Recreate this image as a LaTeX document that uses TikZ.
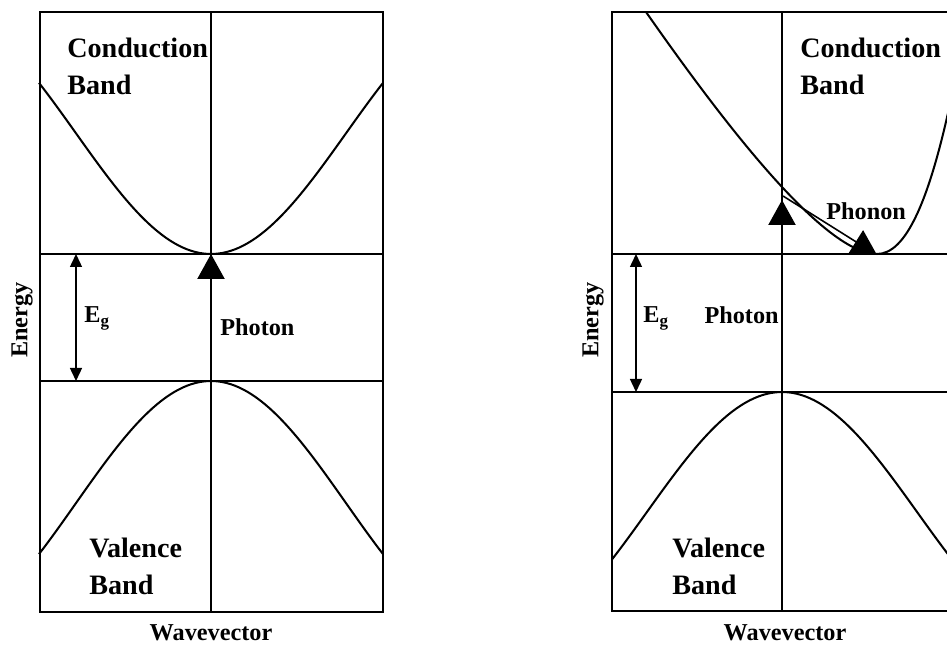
\documentclass[tikz,border=0pt]{standalone}
\usepackage{fontspec}
\setmainfont{Liberation Serif}
\usetikzlibrary{arrows.meta}

\begin{document}
\begin{tikzpicture}[x=0.02cm, y=-0.02cm,
    frame/.style={line width=1.3pt},
    bandedge/.style={line width=1.0pt},
    kaxis/.style={line width=0.8pt},
    bandcurve/.style={line width=1.15pt},
    bandname/.style={font=\fontsize{16}{21.05}\selectfont\bfseries, align=left, inner sep=0pt, anchor=north west},
    lbl/.style={font=\fontsize{13.8}{17}\selectfont\bfseries, inner sep=0pt},
    gaparrow/.style={line width=0.8pt, {Triangle[length=0.26cm, width=0.24cm]}-{Triangle[length=0.26cm, width=0.24cm]}},
    bigarrow/.style={line width=1.3pt, -{Triangle[length=0.5cm, width=0.54cm]}}]
    \clip (0,0) rectangle (947,651);

    % ---------- Direct gap (left) ----------
    \coordinate (cbminL) at (211,254);
    \coordinate (vbmaxL) at (211,381);
    \coordinate (gaptopL) at (76,254);
    \coordinate (gapbotL) at (76,381);

    % Frame and k = 0 axis
    \draw[frame] (40,12) rectangle (383,612);
    \draw[kaxis] (211,12) -- (211,612);

    % Band edges
    \draw[bandedge] (40,254) -- (383,254);
    \draw[bandedge] (40,381) -- (383,381);

    % Bands
    \draw[bandcurve] plot[domain=-172:172, samples=80] ({211+\x}, {254-120.8*(1-cos(\x*0.6663))});
    \draw[bandcurve] plot[domain=-172:172, samples=80] ({211+\x}, {381+122.2*(1-cos(\x*0.6663))});

    % Gap and photon
    \draw[gaparrow] (gaptopL) -- (gapbotL);
    \draw[bigarrow] (vbmaxL) -- (cbminL);

    % Labels
    \node[bandname] (cbtextL) at (67,38) {Conduction\\Band};
    \node[bandname] (vbtextL) at (89,538) {Valence\\Band};
    \node[lbl, anchor=base west] (egL) at (84,323) {E\textsubscript{g}};
    \node[lbl, anchor=base west] (photonL) at (220,336) {Photon};
    \node[lbl, rotate=90] (energyL) at (22,320) {Energy};
    \node[lbl, anchor=base] (wavevecL) at (211,641) {Wavevector};

    % ---------- Indirect gap (right) ----------
    \coordinate (cbminR) at (877,255);
    \coordinate (vbmaxR) at (782,392);
    \coordinate (photontipR) at (782,200);
    \coordinate (phononstart) at (783,196);
    \coordinate (gaptopR) at (636,254);
    \coordinate (gapbotR) at (636,392);

    % Frame and k = 0 axis
    \draw[frame] (612,12) rectangle (1000,611);
    \draw[kaxis] (782,12) -- (782,611);

    % Band edges
    \draw[bandedge] (612,254) -- (1000,254);
    \draw[bandedge] (612,392) -- (1000,392);

    % Bands
    \draw[bandcurve] (646,12) .. controls (716,112) and (822,254) .. (877,254)
        .. controls (905,254) and (930,205) .. (955,80);
    \draw[bandcurve] plot[domain=-170:170, samples=80] ({782+\x}, {392+120*(1-cos(\x*0.6663))});

    % Gap, photon and phonon
    \draw[gaparrow] (gaptopR) -- (gapbotR);
    \draw[bigarrow] (vbmaxR) -- (photontipR);
    \draw[bigarrow, line width=0.9pt] (phononstart) -- (cbminR);

    % Labels
    \node[bandname] (cbtextR) at (800,38) {Conduction\\Band};
    \node[bandname] (vbtextR) at (672,538) {Valence\\Band};
    \node[lbl, anchor=base west] (egR) at (643,323) {E\textsubscript{g}};
    \node[lbl, anchor=base east] (photonR) at (779,324) {Photon};
    \node[lbl, anchor=base west] (phononR) at (826,220) {Phonon};
    \node[lbl, rotate=90] (energyR) at (593,320) {Energy};
    \node[lbl, anchor=base] (wavevecR) at (785,641) {Wavevector};
\end{tikzpicture}
\end{document}
